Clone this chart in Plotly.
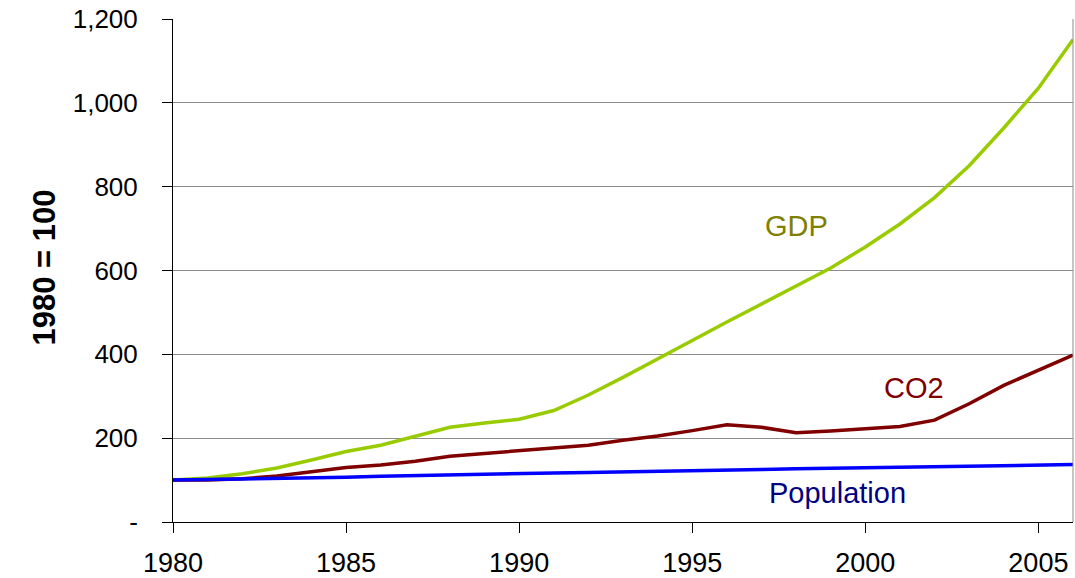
"""Index of GDP, CO2 and population, 1980 = 100."""

import plotly.graph_objects as go

years = list(range(1980, 2007))

gdp = [100, 105, 115, 129, 148, 168, 183, 205, 226, 236, 245, 266, 303, 345, 390,
       433, 477, 520, 561, 606, 656, 711, 774, 850, 940, 1035, 1151]
co2 = [100, 100, 103, 110, 120, 130, 136, 145, 157, 164, 169, 177, 183, 195, 205,
       218, 232, 226, 213, 217, 223, 228, 243, 282, 326, 362, 398]
population = [100, 101, 103, 104, 106, 107, 109, 111, 113, 114, 116, 117, 118, 119, 121,
              122, 124, 125, 127, 128, 130, 131, 132, 133, 135, 136, 137]

y_ticks = [0, 200, 400, 600, 800, 1000, 1200]
y_tick_text = ["-", "200", "400", "600", "800", "1,000", "1,200"]
x_ticks = [1980, 1985, 1990, 1995, 2000, 2005]

series = [
    ("GDP", gdp, "#99cc00"),
    ("CO2", co2, "#800000"),
    ("Population", population, "#0000ff"),
]

fig = go.Figure()
for name, values, color in series:
    fig.add_trace(go.Scatter(x=years, y=values, name=name, mode="lines",
                             line={"color": color, "width": 3.5}))

# inline labels instead of a legend
labels = [
    ("GDP", 1998.0, 707, "#808000"),
    ("CO2", 2001.4, 320, "#800000"),
    ("Population", 1999.2, 70, "#000080"),
]
for text, x, y, color in labels:
    fig.add_annotation(x=x, y=y, text=text, showarrow=False,
                       font={"size": 29, "color": color})

fig.add_annotation(xref="paper", yref="paper", x=(25 - 173) / 900, y=0.505,
                   text="<b>1980 = 100</b>", textangle=-90, showarrow=False,
                   font={"size": 31, "color": "black"})

# grey right-hand border of the plot area
fig.add_shape(type="line", xref="paper", yref="paper", x0=1, x1=1, y0=0, y1=1,
              line={"color": "#8c8c8c", "width": 1})

fig.update_layout(
    width=1075, height=578,
    margin={"l": 173, "r": 2, "t": 19, "b": 56},
    paper_bgcolor="white", plot_bgcolor="white",
    showlegend=False,
    font={"family": "Liberation Sans, Arial, sans-serif", "color": "black"},
)
fig.update_xaxes(
    range=[1980, 2006], tickvals=x_ticks, showgrid=False, zeroline=False,
    showline=True, linecolor="black", linewidth=1,
    ticks="outside", ticklen=10, tickcolor="black",
    tickfont={"size": 27}, ticklabelstandoff=7, automargin=False,
)
fig.update_yaxes(
    range=[0, 1200], tickvals=y_ticks, ticktext=y_tick_text,
    showgrid=True, gridcolor="#8c8c8c", gridwidth=1, zeroline=False,
    showline=True, linecolor="black", linewidth=1,
    ticks="outside", ticklen=10, tickcolor="black",
    tickfont={"size": 26}, ticklabelstandoff=19, automargin=False,
)

# the page's default body margin would shift the fixed-size figure
fig.write_html("out.html", config={"displayModeBar": False},
               post_script="document.body.style.margin = '0';")
